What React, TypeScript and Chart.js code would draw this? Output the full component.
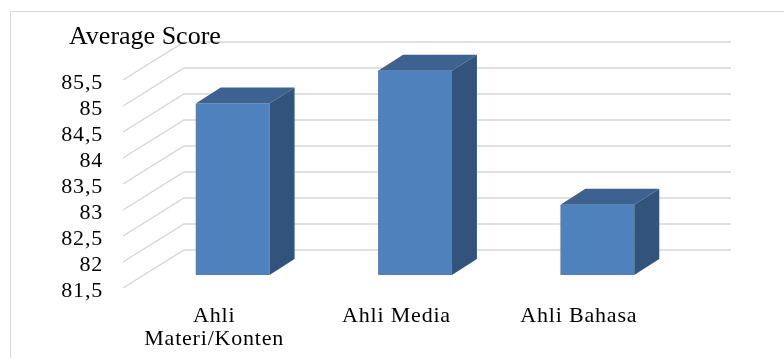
import React, { useEffect, useRef } from "react";
import { Chart, registerables } from "chart.js";

Chart.register(...registerables);

const CATEGORIES: (string | string[])[] = [["Ahli", "Materi/Konten"], "Ahli Media", "Ahli Bahasa"];
const SCORES: number[] = [84.8, 85.43, 82.85];
const Y_MIN = 81.5;
const Y_MAX = 85.5;
const Y_STEP = 0.5;
const AXIS_TITLE = "Average Score";

const FONT = "'Liberation Serif', 'Times New Roman', serif";
const FRONT = "#4f81bd";
const TOP = "#3d6290";
const SIDE = "#32547c";
const GRID = "#d6d6d6";

// 3D geometry (styles)
const WALL_DX = 61;
const WALL_DY = -41;
const GRID_LIFT = -3;
const BAR_OX = 18.5;
const BAR_OY = -16;
const BAR_DX = 25;
const BAR_DY = -16;

const threeD = {
  id: "threeD",
  beforeDraw(chart: any) {
    const ctx = chart.ctx;
    ctx.save();
    ctx.strokeStyle = "#d9d9d9";
    ctx.lineWidth = 1;
    ctx.strokeRect(10.5, 11.5, 900, 500);
    ctx.restore();
    ctx.letterSpacing = "0.8px";
  },
  beforeDatasetsDraw(chart: any) {
    const ctx = chart.ctx;
    const { left, right } = chart.chartArea;
    const y = chart.scales.y;
    ctx.save();
    ctx.letterSpacing = "0px";
    ctx.strokeStyle = GRID;
    ctx.lineWidth = 1.4;
    y.ticks.forEach((t: any) => {
      const py = y.getPixelForValue(t.value);
      ctx.beginPath();
      ctx.moveTo(left, py + GRID_LIFT);
      ctx.lineTo(left + WALL_DX, py + WALL_DY);
      ctx.lineTo(right + WALL_DX, py + WALL_DY);
      ctx.stroke();
    });
    // axis title
    ctx.fillStyle = "#000";
    ctx.font = `26px ${FONT}`;
    ctx.textAlign = "left";
    ctx.textBaseline = "alphabetic";
    ctx.fillText(AXIS_TITLE, 69, 44);
    ctx.restore();
    ctx.save();
    ctx.translate(BAR_OX, BAR_OY);
  },
  afterDatasetsDraw(chart: any) {
    const ctx = chart.ctx;
    ctx.restore();
    const meta = chart.getDatasetMeta(0);
    const bottom = chart.chartArea.bottom;
    meta.data.forEach((bar: any) => {
      const p = bar.getProps(["x", "y", "base", "width"], true);
      const l = p.x - p.width / 2 + BAR_OX;
      const r = p.x + p.width / 2 + BAR_OX;
      const t = p.y + BAR_OY;
      const b = Math.min(p.base, bottom) + BAR_OY;
      ctx.fillStyle = TOP;
      ctx.beginPath();
      ctx.moveTo(l, t);
      ctx.lineTo(r, t);
      ctx.lineTo(r + BAR_DX, t + BAR_DY);
      ctx.lineTo(l + BAR_DX, t + BAR_DY);
      ctx.closePath();
      ctx.fill();
      ctx.fillStyle = SIDE;
      ctx.beginPath();
      ctx.moveTo(r, t);
      ctx.lineTo(r + BAR_DX, t + BAR_DY);
      ctx.lineTo(r + BAR_DX, b + BAR_DY);
      ctx.lineTo(r, b);
      ctx.closePath();
      ctx.fill();
    });
  },
  afterDraw(chart: any) {
    chart.ctx.letterSpacing = "0px";
  },
};

export default function App() {
  const ref = useRef<HTMLCanvasElement | null>(null);
  useEffect(() => {
    if (!ref.current) return;
    const chart = new Chart(ref.current, {
      type: "bar",
      data: {
        labels: CATEGORIES as any,
        datasets: [
          {
            data: SCORES,
            base: Y_MIN,
            backgroundColor: FRONT,
            borderWidth: 0,
            categoryPercentage: 1,
            barPercentage: 0.405,
          } as any,
        ],
      },
      options: {
        animation: false,
        responsive: false,
        devicePixelRatio: 1,
        layout: { padding: { top: 83, right: 114, left: 0, bottom: 0 } },
        plugins: { legend: { display: false }, tooltip: { enabled: false }, title: { display: false } },
        scales: {
          x: {
            grid: { display: false, drawTicks: false },
            border: { display: false },
            ticks: {
              color: "#000",
              padding: 14,
              maxRotation: 0,
              autoSkip: false,
              font: { family: FONT, size: 22, lineHeight: 1.05 },
            },
            afterFit: (s: any) => {
              s.height = 67;
            },
          },
          y: {
            min: Y_MIN,
            max: Y_MAX,
            grid: { display: false, drawTicks: false },
            border: { display: false },
            ticks: {
              stepSize: Y_STEP,
              autoSkip: false,
              color: "#000",
              padding: 20,
              font: { family: FONT, size: 22 },
              callback: (v: any) => String(Math.round(Number(v) * 10) / 10).replace(".", ","),
            },
            afterFit: (s: any) => {
              s.width = 123;
            },
          },
        },
      },
      plugins: [threeD],
    });
    return () => chart.destroy();
  }, []);
  return (
    <div style={{ position: "absolute", left: 0, top: 0, width: 784, height: 358, background: "#fff" }}>
      <canvas ref={ref} width={784} height={358} style={{ display: "block" }} />
    </div>
  );
}
